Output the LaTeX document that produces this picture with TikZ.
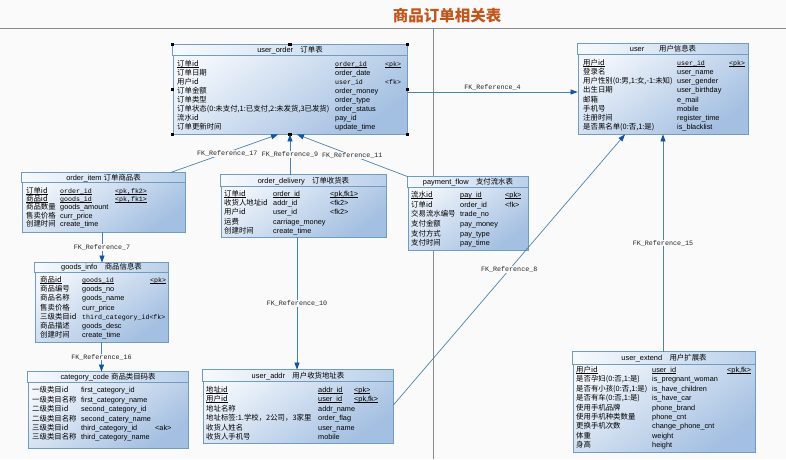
\documentclass[tikz,border=0pt]{standalone}
\usepackage{fontspec}
\setmainfont{Liberation Sans}
\setmonofont{Liberation Mono}
\newfontfamily\cjk{Noto Sans CJK SC}
\usetikzlibrary{arrows.meta,fit}

\definecolor{bg}{HTML}{FAFAFA}
\definecolor{rule}{HTML}{8A8A8A}
\definecolor{titlec}{HTML}{C0561C}
\definecolor{frame}{HTML}{6F9CC0}
\definecolor{bodyA}{HTML}{F3F7FC}
\definecolor{bodyB}{HTML}{A3BFE1}
\definecolor{headA}{HTML}{F7FAFD}
\definecolor{headB}{HTML}{BAD0EA}
\definecolor{link}{HTML}{4C82AE}
\definecolor{tip}{HTML}{14549C}

\tikzset{
  tblbody/.style={draw=frame, line width=0.8pt, inner sep=0pt,
    top color=bodyA, bottom color=bodyB, shading angle=35},
  tblhead/.style={draw=frame, line width=0.8pt, left color=headA, right color=headB},
  cell/.style={anchor=west, inner sep=0pt, text height=6pt, text depth=1pt},
  cn/.style={cell, font=\cjk\fontsize{7.4}{8}\selectfont},
  en/.style={cell, font=\fontsize{7.3}{8}\selectfont},
  ttl/.style={inner sep=0pt, text height=6pt, text depth=1pt, font=\fontsize{7.4}{8}\selectfont},
  fklabel/.style={inner sep=0.6pt, fill=bg, text=black!85,
    font=\ttfamily\fontsize{6.7}{8}\selectfont},
  link/.style={draw=link, line width=0.7pt,
    -{Triangle[length=7pt,width=5pt,color=tip]}},
  handle/.style={fill=black, minimum size=3.5pt, inner sep=0pt}
}

% monospaced key text
\newcommand\mn[1]{{\ttfamily\fontsize{6.6}{8}\selectfont #1}}
% underline set close to the baseline
\newcommand\ul[1]{\sbox0{#1}\makebox[0pt][l]{\usebox0}\rule[-1pt]{\wd0}{0.45pt}}
% one table: name, x1, y1, x2, y2, header height, title
\newcommand\dbtable[7]{%
  \node[tblbody, fit={(#2,#3) (#4,#5)}] (#1) {};
  \path[tblhead] (#1.north west) rectangle ([yshift=-#6pt]#1.north east);
  \node[ttl] (#1-title) at ([yshift=-#6pt/2]#1.north) {#7};
}
% one row with a key column
\newcommand\trowk[5]{%
  \node[cn] (#1-c) at (\cnx,#2) {#3};
  \node[en] (#1-e) at (\enx,#2) {#4};
  \node[en] (#1-k) at (\kx,#2) {#5};
}
% one row without a key column
\newcommand\trow[4]{%
  \node[cn] (#1-c) at (\cnx,#2) {#3};
  \node[en] (#1-e) at (\enx,#2) {#4};
}

\begin{document}
\begin{tikzpicture}[x=1pt, y=-1pt]
\fill[bg] (0,0) rectangle (786,459);
\useasboundingbox (0,0) rectangle (786,459);

% heading and dividers
\node[font=\cjk\bfseries\fontsize{15.5}{17}\selectfont, text=titlec, inner sep=0pt] (heading) at (447,15.5) {商品订单相关表};
\coordinate (hl) at (0,28);
\coordinate (hr) at (786,28);
\coordinate (vt) at (433,28);
\coordinate (vb) at (433,459);
\draw[rule, line width=1pt] (hl) -- (hr);
\draw[rule, line width=1pt] (vt) -- (vb);

% ---------------- user_order
\dbtable{uo}{173}{45}{407}{134}{11}{user\_order\quad{\cjk 订单表}}
\def\cnx{177}\def\enx{335}\def\kx{385}
\trowk{uo1}{63.5}{\ul{订单id}}{\mn{\ul{order\_id}}}{\mn{\ul{<pk>}}}
\trow{uo2}{72.5}{订单日期}{order\_date}
\trowk{uo3}{81.5}{用户id}{\mn{user\_id}}{\mn{<fk>}}
\trow{uo4}{90.5}{订单金额}{order\_money}
\trow{uo5}{99.5}{订单类型}{order\_type}
\trow{uo6}{108.5}{订单状态(0:未支付,1:已支付,2:未发货,3已发货)}{order\_status}
\trow{uo7}{117.5}{流水id}{pay\_id}
\trow{uo8}{126.5}{订单更新时间}{update\_time}
\foreach \a/\n in {north west/1, north/2, north east/3, west/4, east/5, south west/6, south/7, south east/8}
  \node[handle] (uoh\n) at (uo.\a) {};

% ---------------- user
\dbtable{us}{578}{44}{748}{134}{11}{user\qquad{\cjk 用户信息表}}
\def\cnx{583}\def\enx{677}\def\kx{729}
\trowk{us1}{62.7}{\ul{用户id}}{\mn{\ul{user\_id}}}{\mn{\ul{<pk>}}}
\trow{us2}{71.9}{登录名}{user\_name}
\trow{us3}{81.1}{用户性别(0:男,1:女,-1:未知)}{user\_gender}
\trow{us4}{90.3}{出生日期}{user\_birthday}
\trow{us5}{99.5}{邮箱}{e\_mail}
\trow{us6}{108.7}{手机号}{mobile}
\trow{us7}{117.9}{注册时间}{register\_time}
\trow{us8}{127.1}{是否黑名单(0:否,1:是)}{is\_blacklist}

% ---------------- order_item
\dbtable{oi}{22}{173}{185}{232}{10}{order\_item\ {\cjk 订单商品表}}
\def\cnx{26}\def\enx{60}\def\kx{115}
\trowk{oi1}{190.7}{\ul{订单id}}{\mn{\ul{order\_id}}}{\mn{\ul{<pk,fk2>}}}
\trowk{oi2}{199.0}{\ul{商品id}}{\mn{\ul{goods\_id}}}{\mn{\ul{<pk,fk1>}}}
\trow{oi3}{207.3}{商品数量}{goods\_amount}
\trow{oi4}{215.6}{售卖价格}{curr\_price}
\trow{oi5}{224.0}{创建时间}{create\_time}

% ---------------- order_delivery
\dbtable{od}{221}{175}{386}{237}{12}{order\_delivery\quad{\cjk 订单收货表}}
\def\cnx{224}\def\enx{273}\def\kx{330}
\trowk{od1}{194}{\ul{订单id}}{\ul{order\_id}}{\ul{<pk,fk1>}}
\trowk{od2}{203.2}{收货人地址id}{addr\_id}{<fk2>}
\trowk{od3}{212.4}{用户id}{user\_id}{<fk2>}
\trow{od4}{221.6}{运费}{carriage\_money}
\trow{od5}{230.8}{创建时间}{create\_time}

% ---------------- payment_flow
\dbtable{pf}{408}{177}{528}{250}{11}{payment\_flow\quad{\cjk 支付流水表}}
\def\cnx{411}\def\enx{460}\def\kx{505}
\trowk{pf1}{195}{\ul{流水id}}{\ul{pay\_id}}{\ul{<pk>}}
\trowk{pf2}{204.7}{订单id}{order\_id}{<fk>}
\trow{pf3}{214.4}{交易流水编号}{trade\_no}
\trow{pf4}{224.1}{支付金额}{pay\_money}
\trow{pf5}{233.8}{支付方式}{pay\_type}
\trow{pf6}{243.4}{支付时间}{pay\_time}

% ---------------- goods_info
\dbtable{gi}{35}{263}{168}{342}{9.5}{goods\_info\quad{\cjk 商品信息表}}
\def\cnx{40}\def\enx{82}\def\kx{150}
\trowk{gi1}{280}{\ul{商品id}}{\mn{\ul{goods\_id}}}{\mn{\ul{<pk>}}}
\trow{gi2}{289.2}{商品编号}{goods\_no}
\trow{gi3}{298.4}{商品名称}{goods\_name}
\trow{gi4}{307.6}{售卖价格}{curr\_price}
\trow{gi5}{316.8}{三级类目id}{\mn{third\_category\_id<fk>}}
\trow{gi6}{326.0}{商品描述}{goods\_desc}
\trow{gi7}{335.2}{创建时间}{create\_time}

% ---------------- category_code
\dbtable{cc}{28}{372}{188}{448}{11}{category\_code {\cjk 商品类目码表}}
\def\cnx{32}\def\enx{81}\def\kx{155}
\trow{cc1}{390}{一级类目id}{first\_category\_id}
\trow{cc2}{399.5}{一级类目名称}{first\_category\_name}
\trow{cc3}{409}{二级类目id}{second\_category\_id}
\trow{cc4}{418.5}{二级类目名称}{second\_catery\_name}
\trowk{cc5}{428}{三级类目id}{third\_category\_id}{<ak>}
\trow{cc6}{437.4}{三级类目名称}{third\_category\_name}

% ---------------- user_addr
\dbtable{ua}{203}{370}{393}{443}{12}{user\_addr\quad{\cjk 用户收货地址表}}
\def\cnx{206}\def\enx{318}\def\kx{354}
\trowk{ua1}{390}{\ul{地址id}}{\ul{addr\_id}}{\ul{<pk>}}
\trowk{ua2}{399.4}{\ul{用户id}}{\ul{user\_id}}{\ul{<pk,fk>}}
\trow{ua3}{408.8}{地址名称}{addr\_name}
\trow{ua4}{418.2}{地址标签:1.学校，2公司，3家里}{order\_flag}
\trow{ua5}{427.6}{收货人姓名}{user\_name}
\trow{ua6}{436.8}{收货人手机号}{mobile}

% ---------------- user_extend
\dbtable{ue}{573}{352}{755}{452}{13}{user\_extend\quad{\cjk 用户扩展表}}
\def\cnx{576}\def\enx{652}\def\kx{727}
\trowk{ue1}{370}{\ul{用户id}}{\ul{user\_id}}{\ul{<pk,fk>}}
\trow{ue2}{379.4}{是否孕妇(0:否,1:是)}{is\_pregnant\_woman}
\trow{ue3}{388.8}{是否有小孩(0:否,1:是)}{is\_have\_children}
\trow{ue4}{398.2}{是否有车(0:否,1:是)}{is\_have\_car}
\trow{ue5}{407.6}{使用手机品牌}{phone\_brand}
\trow{ue6}{417.0}{使用手机种类数量}{phone\_cnt}
\trow{ue7}{426.4}{更换手机次数}{change\_phone\_cnt}
\trow{ue8}{435.8}{体重}{weight}
\trow{ue9}{445.0}{身高}{height}

% ---------------- references
\draw[link] ([yshift=-2.5pt]uo.east) coordinate (a4) -- (a4 -| us.west)
  node[fklabel, midway, yshift=5pt] {FK\_Reference\_4};
\draw[link] ([xshift=-15pt]oi.north east) -- ([xshift=-12pt]uo.south)
  node[fklabel, midway, xshift=3pt] {FK\_Reference\_17};
\draw[link] ([xshift=-13.5pt]od.north) coordinate (a9) -- (a9 |- uo.south)
  node[fklabel, midway] {FK\_Reference\_9};
\draw[link] (pf.north west) -- ([xshift=7pt]uo.south)
  node[fklabel, midway] {FK\_Reference\_11};
\draw[link] ([xshift=-1.5pt]oi.south) coordinate (a7) -- (a7 |- gi.north)
  node[fklabel, midway] {FK\_Reference\_7};
\draw[link] (gi.south) coordinate (a16) -- (a16 |- cc.north)
  node[fklabel, midway] {FK\_Reference\_16};
\draw[link] ([xshift=-6.5pt]od.south) coordinate (a10) -- (a10 |- ua.north)
  node[fklabel, midway] {FK\_Reference\_10};
\draw[link] ([yshift=1.5pt]ua.east) -- ([xshift=-38pt]us.south)
  node[fklabel, midway] {FK\_Reference\_8};
\draw[link] ([xshift=-1pt]ue.north) coordinate (a15) -- (a15 |- us.south)
  node[fklabel, midway] {FK\_Reference\_15};
\end{tikzpicture}
\end{document}
